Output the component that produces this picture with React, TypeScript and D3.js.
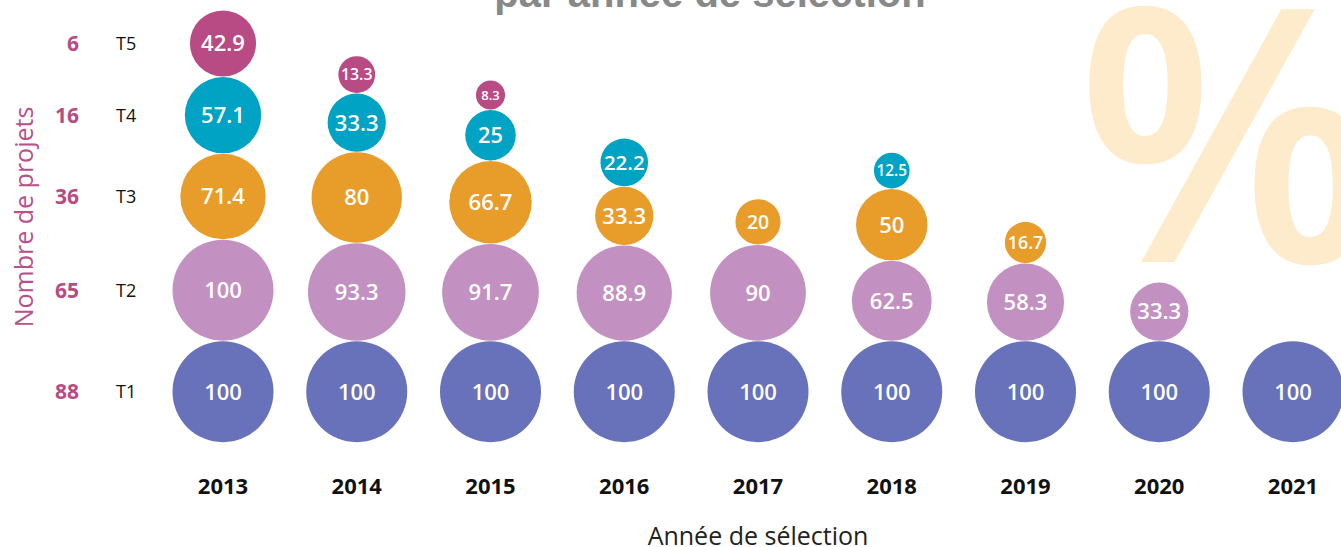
import React from 'react';
import * as d3 from 'd3';

const years = ['2013', '2014', '2015', '2016', '2017', '2018', '2019', '2020', '2021'];
const tiers = ['T1', 'T2', 'T3', 'T4', 'T5'];
const projectCounts = [88, 65, 36, 16, 6];
const t1Values: (number | null)[] = [100, 100, 100, 100, 100, 100, 100, 100, 100];
const t2Values: (number | null)[] = [100, 93.3, 91.7, 88.9, 90, 62.5, 58.3, 33.3, null];
const t3Values: (number | null)[] = [71.4, 80, 66.7, 33.3, 20, 50, 16.7, null, null];
const t4Values: (number | null)[] = [57.1, 33.3, 25, 22.2, null, 12.5, null, null, null];
const t5Values: (number | null)[] = [42.9, 13.3, 8.3, null, null, null, null, null, null];
const series = [t1Values, t2Values, t3Values, t4Values, t5Values];
const tierColors = ['#6872BA', '#C391C1', '#E89C29', '#00A3C3', '#B84A84'];

const W = 1341;
const H = 547;
const FONT = "'Open Sans', 'Noto Sans', sans-serif";

export default function App() {
  const x = d3.scalePoint<string>().domain(years).range([223, 1293]);
  const r = d3.scaleSqrt().domain([0, 100]).range([0, 50.5]);
  const baseY = 391.7;
  const gap = 0.5;

  const bubbles: { year: string; tier: number; v: number; cx: number; cy: number; rr: number }[] = [];
  const rowY: number[][] = years.map(() => []);
  years.forEach((yr, i) => {
    let prevY = 0;
    let prevR = 0;
    series.forEach((s, t) => {
      const v = s[i];
      if (v == null) return;
      const rr = r(v);
      const cy = t === 0 ? baseY : prevY - prevR - gap - rr;
      bubbles.push({ year: yr, tier: t, v, cx: x(yr) as number, cy, rr });
      rowY[i][t] = cy;
      prevY = cy;
      prevR = rr;
    });
  });
  const labelY = rowY[0];

  const fontFor = (rr: number) => Math.min(22, Math.max(13, rr * 0.86));

  return (
    <svg width={W} height={H} style={{ position: 'absolute', left: 0, top: 0, background: '#fff' }}>
      <text x={1228} y={262} fontFamily={FONT} fontWeight={600} fontSize={354} fill="#FDEBCC" textAnchor="middle">%</text>
      <text x={710} y={7} fontFamily="'Liberation Sans', Arial, sans-serif" fontWeight={700} fontSize={40} fill="#888888" textAnchor="middle">par année de sélection</text>

      <text transform={`translate(33,217) rotate(-90)`} fontFamily={FONT} fontSize={25} fill="#B8508A" textAnchor="middle">Nombre de projets</text>

      {tiers.map((t, i) => (
        <g key={t}>
          <text x={79} y={labelY[i]} dy="0.36em" fontFamily={FONT} fontWeight={700} fontSize={21} fill="#B84A84" textAnchor="end">{projectCounts[i]}</text>
          <text x={116} y={labelY[i]} dy="0.36em" fontFamily={FONT} fontSize={18} fill="#111">{t}</text>
        </g>
      ))}

      {bubbles.map((b, i) => (
        <g key={i}>
          <circle cx={b.cx} cy={b.cy} r={b.rr} fill={tierColors[b.tier]} />
          <text x={b.cx} y={b.cy} dy="0.36em" textAnchor="middle" fontFamily={FONT} fontWeight={600} fontSize={fontFor(b.rr)} fill="#fff">{String(b.v)}</text>
        </g>
      ))}

      {years.map((yr) => (
        <text key={yr} x={x(yr)} y={494} textAnchor="middle" fontFamily={FONT} fontWeight={700} fontSize={22} fill="#111">{yr}</text>
      ))}

      <text x={758} y={545} textAnchor="middle" fontFamily={FONT} fontSize={25} fill="#222">Année de sélection</text>
    </svg>
  );
}
